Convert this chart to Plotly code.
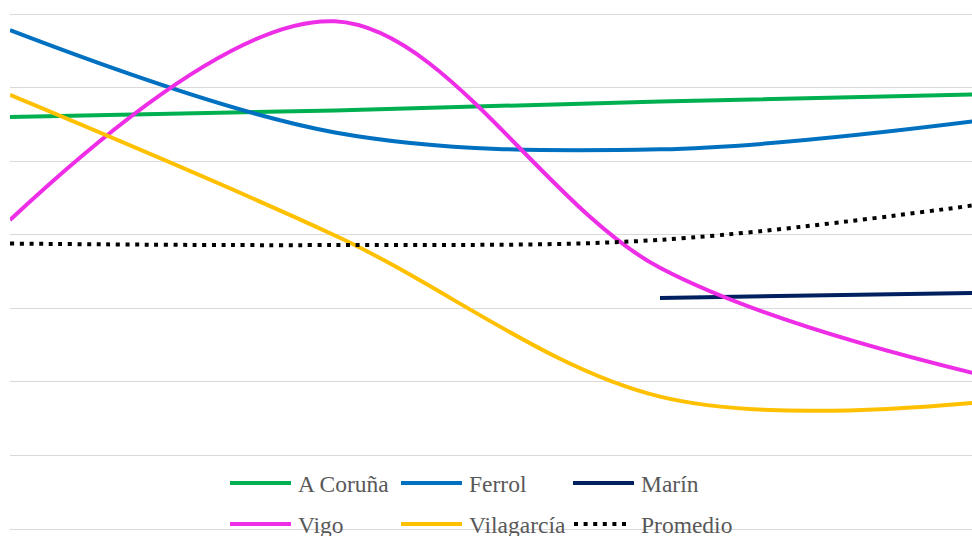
import plotly.graph_objects as go

# Categories (labels sit outside the visible frame)
categories = [0, 1, 2, 3]

# Series values
a_coruna = [56.0, 56.9, 58.1, 59.1]
ferrol = [67.8, 53.9, 51.6, 55.6]
marin = [None, None, 31.4, 32.1]
vigo = [42.0, 69.0, 35.5, 20.8]
vilagarcia = [59.0, 39.9, 18.0, 17.3]
promedio = [38.8, 38.6, 39.3, 44.2]

series_names = ["A Coruña", "Ferrol", "Marín", "Vigo", "Vilagarcía", "Promedio"]
series_values = [a_coruna, ferrol, marin, vigo, vilagarcia, promedio]
series_colors = ["#00B050", "#0070C0", "#002060", "#EE2DE6", "#FFC000", "#000000"]
series_dash = ["solid", "solid", "solid", "solid", "solid", "4px,5.6px"]

W, H = 972, 536
LEFT = 10
LABEL_FONT = dict(family="'Liberation Serif', 'Times New Roman', serif",
                  size=23.5, color="#595959")

fig = go.Figure()
for name, vals, col, dash in zip(series_names, series_values, series_colors, series_dash):
    fig.add_trace(go.Scatter(
        x=categories, y=vals, name=name, mode="lines",
        line=dict(color=col, width=4, dash=dash, shape="spline", smoothing=1),
        showlegend=False, hoverinfo="skip", connectgaps=False,
    ))

# Axis scaling: gridlines every 10 units, 0 at px 529 and 70 at px 14
px_per_unit = (529 - 14) / 70
y_lo = -(H - 529) / px_per_unit
y_hi = 70 + 14 / px_per_unit
cat_px = 325
x_hi = (W - LEFT) / cat_px


def px_x(px):
    return (px - LEFT) / (W - LEFT)


def px_y(py):
    return 1 - py / H


# Legend drawn as line samples and labels, two rows of three
legend_cols = [230, 401, 573]
legend_rows = [483, 524]
sample_len = 61
shapes = []
annotations = []
for i, (name, col, dash) in enumerate(zip(series_names, series_colors, series_dash)):
    r, c = divmod(i, 3)
    x0 = legend_cols[c]
    yc = legend_rows[r]
    if dash == "solid":
        shapes.append(dict(type="line", xref="paper", yref="paper",
                           x0=px_x(x0), x1=px_x(x0 + sample_len), y0=px_y(yc), y1=px_y(yc),
                           line=dict(color=col, width=4)))
    else:
        shapes.append(dict(type="line", xref="paper", yref="paper",
                           x0=px_x(x0 + 1), x1=px_x(x0 + 54), y0=px_y(yc), y1=px_y(yc),
                           line=dict(color=col, width=4, dash="4px,5.6px")))
    annotations.append(dict(text=name, xref="paper", yref="paper",
                            x=px_x(x0 + sample_len + 5), y=px_y(yc + 1),
                            xanchor="left", yanchor="middle", showarrow=False,
                            font=LABEL_FONT))

fig.update_layout(
    width=W, height=H,
    margin=dict(l=LEFT, r=0, t=0, b=0),
    paper_bgcolor="white", plot_bgcolor="white",
    font=LABEL_FONT,
    xaxis=dict(range=[0, x_hi], showgrid=False, zeroline=False,
               showticklabels=False, ticks="", showline=False, fixedrange=True),
    yaxis=dict(range=[y_lo, y_hi], dtick=10, tick0=0, showgrid=True,
               gridcolor="#D9D9D9", gridwidth=1.3, zeroline=False,
               showticklabels=False, ticks="", showline=False, fixedrange=True),
    shapes=shapes, annotations=annotations,
    showlegend=False,
)

fig.write_html("out.html", config={"displayModeBar": False})
